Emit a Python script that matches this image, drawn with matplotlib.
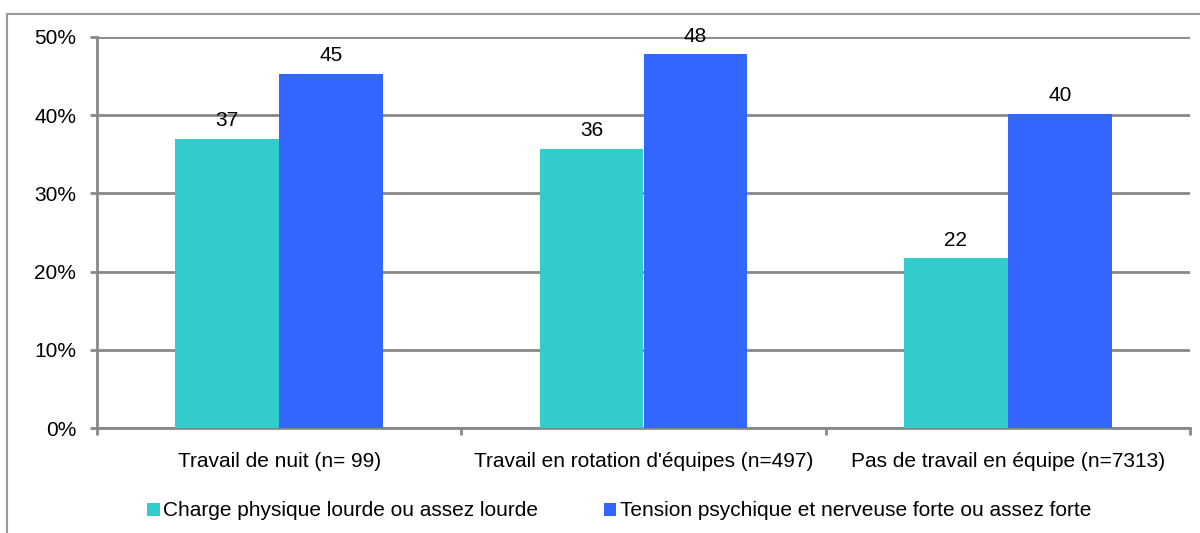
import numpy as np
import matplotlib

matplotlib.use("Agg")
import matplotlib.pyplot as plt
from matplotlib.patches import Rectangle

plt.rcParams["font.family"] = ["Liberation Sans", "DejaVu Sans"]

categories = [
    "Travail de nuit (n= 99)",
    "Travail en rotation d'équipes (n=497)",
    "Pas de travail en équipe (n=7313)",
]
series_names = [
    "Charge physique lourde ou assez lourde",
    "Tension psychique et nerveuse forte ou assez forte",
]
charge_physique = [37.0, 35.7, 21.7]
tension_psychique = [45.3, 47.8, 40.2]
y_ticks = [0, 10, 20, 30, 40, 50]

colors = ["#33CCCC", "#3366FF"]
grid_color = "#888888"
fs = 15

fig = plt.figure(figsize=(12, 5.33), dpi=100)
ax = fig.add_axes([97 / 1200, 1 - 428 / 533, (1190 - 97) / 1200, (428 - 37) / 533])

x = np.arange(len(categories))
width = 0.285
for k, (vals, name) in enumerate(zip([charge_physique, tension_psychique], series_names)):
    pos = x + (k - 0.5) * width
    bars = ax.bar(pos, vals, width, color=colors[k], label=name, zorder=3)
    for b, v in zip(bars, vals):
        ax.text(b.get_x() + b.get_width() / 2, v + 1.1, f"{v:.0f}",
                ha="center", va="bottom", fontsize=fs, color="black")

ax.set_xlim(-0.5, len(categories) - 0.5)
ax.set_ylim(0, 50)
ax.set_yticks(y_ticks)
ax.set_yticklabels([f"{t}%" for t in y_ticks], fontsize=fs)
ax.yaxis.grid(True, color=grid_color, linewidth=2, zorder=0)
ax.set_axisbelow(True)

# category labels sit between boundary tick marks
ax.set_xticks(np.arange(len(categories) + 1) - 0.5)
ax.set_xticklabels([])
ax.set_xticks(x, minor=True)
ax.set_xticklabels(categories, minor=True, fontsize=fs)
ax.tick_params(axis="x", which="minor", length=0, pad=17)
ax.tick_params(axis="x", which="major", length=5, width=2, color=grid_color)
ax.tick_params(axis="y", length=5, width=2, color=grid_color, pad=10)

for side in ["top", "right"]:
    ax.spines[side].set_visible(False)
for side in ["left", "bottom"]:
    ax.spines[side].set_color(grid_color)
    ax.spines[side].set_linewidth(2)

# outer chart frame
fig.patches.append(Rectangle((7 / 1200, -0.1), 1.2, 1 - 14 / 533 + 0.1,
                             transform=fig.transFigure, fill=False,
                             edgecolor="#999999", linewidth=1.5))

fig.legend(loc="center left", bbox_to_anchor=(137 / 1200, 1 - 511 / 533),
           ncol=2, frameon=False, fontsize=fs, borderpad=0,
           handlelength=0.58, handleheight=0.58, handletextpad=0.15,
           columnspacing=3.2)

fig.savefig("out.png")
plt.close(fig)
